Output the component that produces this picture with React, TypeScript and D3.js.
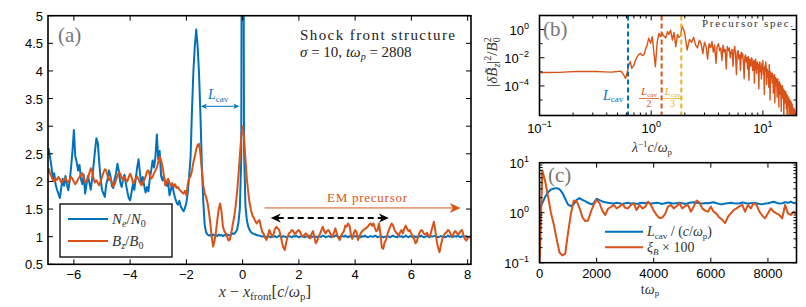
import React from "react";
import * as d3 from "d3";

const BLUE = "#0072BD";
const ORANGE = "#D95319";
const YELLOW = "#EDB120";
const SERIF = "'Liberation Serif', 'DejaVu Serif', serif";
const SANS = "'Liberation Sans', Arial, sans-serif";

// (a) shock profiles sampled at x = -6.9 + 0.05 * i
const profileX0 = -6.9;
const profileDx = 0.05;
const neProfile = [
  2.60, 2.45, 2.28, 2.05, 2.15, 1.95, 1.85, 1.78, 1.70, 1.88, 2.05, 1.92, 2.10, 1.95, 1.84, 2.00, 2.25, 2.55, 2.93, 2.45,
  2.35, 2.20, 2.30, 2.05, 1.95, 2.12, 1.78, 1.95, 2.10, 1.98, 1.85, 2.05, 2.30, 2.55, 2.78, 2.70, 2.35, 2.05, 1.85, 1.78,
  1.72, 1.95, 2.05, 2.20, 2.10, 1.92, 1.88, 2.05, 2.15, 2.32, 2.18, 1.98, 1.90, 2.05, 2.12, 1.95, 1.82, 1.70, 1.66, 1.80,
  1.95, 1.85, 2.05, 2.25, 2.40, 2.15, 1.95, 2.08, 1.92, 1.80, 1.90, 1.82, 2.05, 2.20, 2.38, 2.25, 2.45, 2.85, 2.40, 2.55,
  2.10, 2.02, 2.10, 1.95, 1.92, 1.98, 1.75, 1.85, 1.95, 1.80, 1.70, 1.62, 1.58, 1.65, 1.55, 1.50, 1.46, 1.52, 1.62, 1.80,
  2.10, 2.45, 3.30, 4.00, 4.45, 4.75, 4.45, 3.95, 3.20, 2.30, 1.65, 1.22, 1.08, 1.04, 1.02, 1.03, 1.01, 1.04, 1.02, 1.03,
  1.01, 1.04, 1.02, 1.03, 1.01, 1.03, 1.02, 1.04, 1.03, 1.02, 1.04, 1.06, 1.05, 1.08, 1.12, 1.25, 1.50, 2.40, 14.0, 2.60,
  1.55, 1.30, 1.18, 1.12, 1.08, 1.06, 1.05, 1.04, 1.03, 1.02, 1.02, 1.01, 1.00, 1.01, 0.99, 1.00, 1.01, 1.00, 0.99, 1.00,
  1.00, 1.01, 0.99, 1.00, 1.02, 1.00, 0.99, 1.01, 1.00, 0.99, 1.00, 1.01, 1.00, 0.99, 1.01, 1.00, 1.02, 1.00, 0.99, 1.00,
  1.01, 1.00, 0.99, 1.00, 1.01, 1.02, 1.00, 0.99, 1.00, 1.01, 1.00, 0.99, 1.01, 1.00, 1.00, 1.02, 1.01, 0.99, 1.00, 1.01,
  1.00, 0.99, 1.01, 1.00, 1.02, 1.01, 1.00, 0.99, 1.00, 1.01, 1.00, 1.02, 1.00, 0.99, 1.01, 1.00, 0.99, 1.00, 1.01, 1.00,
  1.01, 1.00, 0.99, 1.01, 1.00, 1.02, 1.00, 0.99, 1.00, 1.01, 1.00, 1.00, 1.02, 1.01, 0.99, 1.00, 1.01, 1.00, 0.99, 1.00,
  1.00, 1.01, 1.00, 0.99, 1.01, 1.02, 1.00, 1.00, 0.99, 1.01, 1.00, 1.01, 0.99, 1.00, 1.02, 1.00, 0.99, 1.01, 1.00, 1.00,
  1.01, 0.99, 1.00, 1.01, 1.00, 1.02, 1.00, 0.99, 1.00, 1.01, 1.00, 0.99, 1.01, 1.00, 1.01, 1.02, 1.00, 0.99, 1.00, 1.01,
  1.00, 1.01, 0.99, 1.00, 1.02, 1.00, 1.01, 0.99, 1.00, 1.01, 1.00, 1.02, 1.00, 0.99, 1.01, 1.00, 1.00, 1.01, 0.99, 1.00,
  1.00,
];
const bzProfile = [
  2.24, 2.15, 2.09, 2.03, 2.00, 2.05, 2.03, 2.08, 2.04, 1.98, 2.00, 2.04, 2.06, 2.01, 1.98, 2.03, 2.08, 2.05, 1.99, 1.95,
  1.99, 2.04, 2.08, 2.12, 2.15, 2.08, 1.98, 2.00, 2.06, 2.15, 2.24, 2.18, 2.05, 1.98, 2.02, 1.97, 1.93, 2.00, 2.08, 2.16,
  2.22, 2.20, 2.10, 2.02, 2.06, 1.98, 1.91, 1.95, 2.03, 2.10, 2.16, 2.14, 2.06, 2.02, 2.08, 2.04, 2.00, 2.08, 2.14, 2.08,
  1.97, 2.00, 2.05, 2.09, 2.04, 1.98, 1.93, 1.98, 2.02, 2.09, 2.18, 2.20, 2.11, 2.05, 2.08, 2.15, 2.20, 2.25, 2.35, 2.45,
  2.38, 2.27, 2.10, 1.93, 2.00, 2.05, 1.98, 1.92, 1.97, 1.90, 1.95, 1.88, 1.90, 1.85, 1.83, 1.80, 1.78, 1.83, 1.75, 1.95,
  2.06, 2.10, 2.20, 2.35, 2.45, 2.58, 2.66, 2.68, 2.50, 2.20, 1.93, 1.79, 1.72, 1.62, 1.45, 1.25, 1.00, 0.82, 0.92, 1.08,
  1.30, 1.50, 1.60, 1.45, 1.18, 1.10, 1.06, 1.00, 0.93, 0.95, 1.08, 1.22, 1.36, 1.55, 1.79, 2.10, 2.45, 2.80, 3.00, 2.80,
  2.40, 2.05, 1.80, 1.60, 1.48, 1.38, 1.34, 1.28, 1.24, 1.28, 1.30, 1.18, 1.08, 1.05, 0.98, 0.94, 1.02, 1.12, 1.06, 1.00,
  1.05, 1.14, 1.18, 1.15, 1.12, 1.02, 0.90, 0.80, 0.76, 0.90, 1.00, 1.06, 1.08, 1.12, 1.10, 1.05, 1.07, 1.10, 1.12, 1.08,
  1.02, 1.00, 1.04, 1.06, 1.02, 0.98, 0.97, 1.05, 1.10, 1.00, 0.88, 0.92, 1.00, 1.05, 1.12, 1.18, 1.10, 1.06, 1.10, 1.12,
  1.08, 1.02, 1.00, 1.08, 1.15, 1.05, 0.98, 0.94, 1.02, 1.06, 1.10, 1.20, 1.18, 1.24, 1.20, 1.05, 0.96, 1.06, 1.12, 1.08,
  0.94, 1.00, 1.06, 1.10, 1.12, 1.14, 1.16, 1.18, 1.22, 1.24, 1.20, 1.24, 1.16, 1.10, 1.12, 1.24, 1.05, 0.80, 0.78, 0.90,
  0.94, 1.05, 1.12, 1.18, 1.24, 1.20, 1.12, 1.08, 1.05, 1.02, 1.08, 1.12, 1.06, 1.15, 1.20, 1.14, 1.10, 1.12, 1.05, 1.00,
  0.95, 0.88, 0.92, 1.02, 1.08, 1.12, 1.10, 1.05, 1.04, 1.07, 1.02, 1.00, 1.08, 1.18, 1.27, 1.12, 0.92, 0.80, 0.72, 0.85,
  0.96, 1.02, 1.06, 1.08, 1.12, 1.10, 1.04, 1.00, 1.06, 1.10, 1.08, 1.04, 1.06, 1.10, 1.12, 1.04, 0.96, 0.93, 0.97, 1.00,
  0.98,
];
const aXTicks = [-6, -4, -2, 0, 2, 4, 6, 8];
const aYTicks = [0.5, 1, 1.5, 2, 2.5, 3, 3.5, 4, 4.5, 5];

// (b) precursor spectrum, log10 of |dBz|^2/B0^2
const specKLow = [
  0.10, 0.12, 0.15, 0.18, 0.22, 0.27, 0.32, 0.38, 0.44, 0.50, 0.53, 0.55, 0.57, 0.59, 0.61, 0.63, 0.65, 0.67, 0.70, 0.72,
  0.75, 0.78, 0.80, 0.83, 0.86, 0.89, 0.92, 0.95, 0.99, 1.02, 1.06, 1.09, 1.13, 1.17, 1.21, 1.25, 1.30, 1.35, 1.40, 1.44,
  1.49, 1.55, 1.60, 1.66, 1.72, 1.77, 1.83, 1.89, 1.96,
];
const specLogLow = [
  -3.05, -3.05, -3.04, -3.00, -2.98, -2.97, -2.98, -3.00, -3.02, -2.98, -2.95, -3.05, -3.25, -3.46, -3.05, -2.51, -2.27, -2.75, -2.55, -2.20,
  -1.92, -1.75, -1.68, -1.85, -1.80, -1.40, -1.09, -0.62, -0.97, -0.50, -1.68, -2.63, -0.95, -0.27, -0.50, -0.27, -0.45, -0.60, -0.14, -0.35,
  -0.04, -0.74, -0.20, -1.21, -0.35, -0.55, -0.45, 0.26, -0.05,
];
const specK0 = 2.0;
const specDk = 0.1;
const specLogHigh = [
  -0.30, -1.45, -0.70, -0.90, -0.55, -1.10, -1.30, -0.75, -1.00, -1.70,
  -0.90, -1.20, -2.10, -1.00, -1.30, -0.85, -1.60, -1.10, -2.40, -1.20,
  -1.00, -1.50, -1.30, -2.20, -1.10, -1.60, -1.40, -2.80, -1.20, -1.50,
  -1.30, -2.00, -1.60, -1.40, -2.60, -1.50, -1.20, -1.90, -3.20, -1.60,
  -1.50, -2.10, -1.80, -2.90, -1.60, -2.00, -1.70, -2.40, -3.50, -1.90,
  -1.80, -2.30, -2.00, -2.80, -1.90, -3.60, -2.10, -2.20, -2.60, -2.00,
  -2.10, -2.90, -2.30, -2.20, -3.80, -2.40, -2.10, -2.70, -3.10, -2.30,
  -2.40, -2.60, -4.20, -2.50, -2.30, -3.00, -2.60, -3.50, -2.40, -2.80,
  -2.20, -3.20, -2.70, -4.60, -2.60, -2.90, -2.30, -2.70, -3.90, -2.80,
  -2.90, -3.40, -3.00, -4.10, -2.50, -3.20, -5.00, -3.00, -3.30, -3.10,
  -3.20, -3.80, -3.10, -3.40, -4.50, -3.30, -3.60, -3.20, -5.20, -3.50,
  -3.40, -4.00, -3.60, -3.50, -4.80, -3.70, -3.50, -4.30, -3.80, -5.50,
  -3.70, -4.00, -3.80, -4.60, -3.90, -4.20, -5.80, -4.00, -4.30, -4.10,
  -4.00, -4.90, -4.20, -4.40, -6.30, -4.30, -4.60, -4.40, -5.20, -4.50,
  -4.40, -4.70, -5.60, -4.60, -4.80, -6.50, -4.70, -5.00, -4.90, -5.40,
  -4.80, -5.10, -6.60, -5.00, -5.20, -5.00, -5.90, -5.30, -5.10, -6.80,
  -5.20, -5.40, -5.60, -5.30, -6.70, -5.50, -5.70, -5.60, -6.00, -5.80,
  -5.60, -6.90, -5.80, -5.70, -6.10, -5.90, -7.00, -6.00, -6.20, -6.10,
  -6.40,
];
const cavMarks = [0.62, 1.24, 1.86]; // L_cav, L_cav/2, L_cav/3 (inverse)
const bXTicks = [0.1, 1, 10];
const bYTicks = [-4, -2, 0];

// (c) time evolution, t = 100 * i
const tDt = 100;
const lcavSeries = [
  1.15, 1.55, 2.10, 2.55, 2.90, 3.05, 3.10, 2.95, 2.50, 1.90, 1.45, 1.35, 1.48, 1.80, 1.95, 1.80, 1.70, 1.58, 1.48, 1.55,
  1.90, 1.78, 1.68, 1.62, 1.58, 1.55, 1.52, 1.58, 1.55, 1.50, 1.54, 1.58, 1.52, 1.55, 1.50, 1.54, 1.58, 1.55, 1.60, 1.52,
  1.55, 1.58, 1.54, 1.50, 1.55, 1.60, 1.56, 1.52, 1.55, 1.58, 1.54, 1.50, 1.55, 1.60, 1.62, 1.58, 1.55, 1.52, 1.56, 1.54,
  1.58, 1.62, 1.55, 1.50, 1.48, 1.52, 1.55, 1.58, 1.54, 1.52, 1.55, 1.60, 1.56, 1.52, 1.55, 1.58, 1.54, 1.50, 1.48, 1.52,
  1.55, 1.60, 1.66, 1.58, 1.52, 1.55, 1.62, 1.58, 1.66, 1.55, 1.60,
];
const xiBSeries = [
  0.08, 7.00, 4.20, 2.10, 1.00, 0.58, 0.30, 0.16, 0.14, 0.15, 0.40, 0.95, 1.75, 1.70, 1.25, 0.82, 0.68, 0.70, 1.05, 1.45,
  1.80, 1.55, 1.10, 0.90, 1.20, 1.30, 1.43, 1.22, 1.32, 1.50, 1.25, 1.22, 1.43, 1.54, 1.13, 1.43, 1.22, 1.30, 1.66, 1.43,
  1.10, 0.90, 0.78, 0.80, 0.95, 1.32, 1.43, 1.22, 1.35, 1.54, 1.22, 1.35, 1.43, 1.05, 1.32, 1.75, 1.60, 1.22, 1.10, 1.05,
  1.32, 1.05, 0.95, 0.80, 0.72, 0.62, 0.83, 0.97, 1.13, 1.22, 1.35, 1.43, 1.05, 1.43, 1.22, 1.54, 1.43, 1.05, 0.88, 0.77,
  0.97, 1.22, 1.05, 0.97, 0.90, 0.77, 1.43, 0.97, 0.90, 1.05, 0.97,
];
const cXTicks = [0, 2000, 4000, 6000, 8000];
const cYTicks = [-1, 0, 1];

const MINUS = "\u2212";
const fmt = (v: number) => (v < 0 ? MINUS + Math.abs(v) : String(v));

function Frame({ x0, x1, y0, y1, xt, yt, xm = [], ym = [] }) {
  const L = 5;
  const l = 3;
  let d = "";
  xt.forEach((p) => (d += `M${p},${y1}v${-L}M${p},${y0}v${L}`));
  yt.forEach((p) => (d += `M${x0},${p}h${L}M${x1},${p}h${-L}`));
  xm.forEach((p) => (d += `M${p},${y1}v${-l}M${p},${y0}v${l}`));
  ym.forEach((p) => (d += `M${x0},${p}h${l}M${x1},${p}h${-l}`));
  return (
    <g>
      <path d={d} stroke="#000" strokeWidth={1} fill="none" />
      <rect x={x0} y={y0} width={x1 - x0} height={y1 - y0} fill="none" stroke="#000" strokeWidth={1.6} />
    </g>
  );
}

function Pow10({ x, y, e, anchor = "middle" }) {
  return (
    <text x={x} y={y} textAnchor={anchor} fontFamily={SANS} fontSize={13}>
      10<tspan fontSize={9} dy={-6}>{fmt(e)}</tspan>
    </text>
  );
}

function Arrowhead({ x, y, dir, size, color }) {
  // notched arrowhead pointing in +dir along x
  const s = size;
  const d = `M${x},${y}L${x - dir * s},${y - s * 0.45}L${x - dir * s * 0.7},${y}L${x - dir * s},${y + s * 0.45}Z`;
  return <path d={d} fill={color} stroke="none" />;
}

export default function App() {
  // panel (a)
  const ax = d3.scaleLinear().domain([-6.92, 8.12]).range([48, 471]);
  const ay = d3.scaleLinear().domain([0.5, 5]).range([264.3, 15.7]);
  const profLine = d3
    .line<number>()
    .x((_, i) => ax(profileX0 + i * profileDx))
    .y((v) => ay(v));

  // panel (b)
  const bx = d3.scaleLog().domain([0.1, 20]).range([539.5, 796.5]);
  const by = d3.scaleLog().domain([Math.pow(10, -6.1), 10]).range([115.5, 15.5]);
  const specPts: [number, number][] = [
    ...specKLow.map((k, i) => [k, Math.pow(10, specLogLow[i])] as [number, number]),
    ...specLogHigh.map((v, i) => [specK0 + i * specDk, Math.pow(10, v)] as [number, number]),
  ];
  const specLine = d3
    .line<[number, number]>()
    .x((d) => bx(d[0]))
    .y((d) => by(d[1]));
  const bMinorX = bx.ticks().filter((t) => !bXTicks.some((m) => Math.abs(m - t) < 1e-9));
  const bMinorY = [-5, -3, -1, 1].map((e) => by(Math.pow(10, e)));

  // panel (c)
  const cx = d3.scaleLinear().domain([0, 9000]).range([539.5, 796.5]);
  const cy = d3.scaleLog().domain([0.1, 10]).range([262.7, 162.7]);
  const tLine = d3
    .line<number>()
    .x((_, i) => cx(i * tDt))
    .y((v) => cy(v));
  const cMinorY = cy.ticks().filter((t) => ![0.1, 1, 10].includes(t)).map((t) => cy(t));

  const [ax0, ax1] = ax.range();
  const [ayB, ayT] = ay.range();

  return (
    <svg
      width={806}
      height={307}
      viewBox="0 0 806 307"
      style={{ position: "absolute", left: 0, top: 0, background: "#fff" }}
    >
      <defs>
        <clipPath id="clipA">
          <rect x={ax0} y={ayT} width={ax1 - ax0} height={ayB - ayT} />
        </clipPath>
        <clipPath id="clipB">
          <rect x={539.5} y={15.5} width={257} height={100} />
        </clipPath>
        <clipPath id="clipC">
          <rect x={539.5} y={162.7} width={257} height={100} />
        </clipPath>
      </defs>

      {/* ---------- panel (a) ---------- */}
      <g clipPath="url(#clipA)">
        <path d={profLine(neProfile)} fill="none" stroke={BLUE} strokeWidth={2} strokeLinejoin="round" />
        <path d={profLine(bzProfile)} fill="none" stroke={ORANGE} strokeWidth={2} strokeLinejoin="round" />
      </g>
      <Frame
        x0={ax0}
        x1={ax1}
        y0={ayT}
        y1={ayB}
        xt={aXTicks.map((t) => ax(t))}
        yt={aYTicks.map((t) => ay(t))}
      />
      {aXTicks.map((t) => (
        <text key={t} x={ax(t)} y={279} textAnchor="middle" fontFamily={SANS} fontSize={13}>
          {fmt(t)}
        </text>
      ))}
      {aYTicks.map((t) => (
        <text key={t} x={43} y={ay(t) + 5} textAnchor="end" fontFamily={SANS} fontSize={13}>
          {t}
        </text>
      ))}
      <text x={265} y={297} textAnchor="middle" fontFamily={SERIF} fontSize={16} fill="#333">
        <tspan fontStyle="italic">x</tspan> {MINUS} <tspan fontStyle="italic">x</tspan>
        <tspan fontSize={11} dy={3}>front</tspan>
        <tspan dy={-3} fontSize={17}>[</tspan>
        <tspan fontStyle="italic">c</tspan>/<tspan fontStyle="italic">ω</tspan>
        <tspan fontSize={11} dy={3}>p</tspan>
        <tspan dy={-3} fontSize={17}>]</tspan>
      </text>
      <text x={58} y={42} fontFamily={SERIF} fontSize={21} fill="#777">
        (a)
      </text>
      <text x={300} y={40} fontFamily={SERIF} fontSize={15} textLength={155} fill="#222">
        Shock front structure
      </text>
      <text x={300} y={57} fontFamily={SERIF} fontSize={15} fill="#222">
        <tspan fontStyle="italic">σ</tspan> = 10, <tspan fontStyle="italic">tω</tspan>
        <tspan fontSize={10} dy={3} fontStyle="italic">p</tspan>
        <tspan dy={-3}> = 2808</tspan>
      </text>

      {/* L_cav annotation */}
      <line x1={ax(-1.48) + 4} x2={ax(-0.12) - 4} y1={ay(3.36)} y2={ay(3.36)} stroke={BLUE} strokeWidth={1} />
      <Arrowhead x={ax(-0.12)} y={ay(3.36)} dir={1} size={6} color={BLUE} />
      <Arrowhead x={ax(-1.48)} y={ay(3.36)} dir={-1} size={6} color={BLUE} />
      <text x={208} y={99} fontFamily={SERIF} fontSize={14} fill={BLUE}>
        <tspan fontStyle="italic">L</tspan>
        <tspan fontSize={9} dy={3}>cav</tspan>
      </text>

      {/* EM precursor annotation */}
      <text x={367} y={202} textAnchor="middle" fontFamily={SERIF} fontSize={13} textLength={80} fill={ORANGE}>
        EM precursor
      </text>
      <line x1={ax(0.78)} x2={ax(7.75) - 6} y1={ay(1.52)} y2={ay(1.52)} stroke={ORANGE} strokeWidth={1} />
      <Arrowhead x={ax(7.75)} y={ay(1.52)} dir={1} size={11} color={ORANGE} />
      <line
        x1={ax(1.0) + 7}
        x2={ax(5.2) - 7}
        y1={ay(1.34)}
        y2={ay(1.34)}
        stroke="#000"
        strokeWidth={2}
        strokeDasharray="6,4"
      />
      <Arrowhead x={ax(5.2)} y={ay(1.34)} dir={1} size={10} color="#000" />
      <Arrowhead x={ax(1.0)} y={ay(1.34)} dir={-1} size={10} color="#000" />

      {/* legend (a) */}
      <rect x={60} y={204} width={112} height={53} fill="#fff" stroke="#222" strokeWidth={1.5} />
      <line x1={68} x2={108} y1={219} y2={219} stroke={BLUE} strokeWidth={2} />
      <line x1={68} x2={108} y1={241} y2={241} stroke={ORANGE} strokeWidth={2} />
      <text x={112} y={224} fontFamily={SERIF} fontSize={15} fill="#333">
        <tspan fontStyle="italic">N</tspan>
        <tspan fontSize={10} dy={3} fontStyle="italic">e</tspan>
        <tspan dy={-3}>/</tspan>
        <tspan fontStyle="italic">N</tspan>
        <tspan fontSize={10} dy={3}>0</tspan>
      </text>
      <text x={112} y={246} fontFamily={SERIF} fontSize={15} fill="#333">
        <tspan fontStyle="italic">B</tspan>
        <tspan fontSize={10} dy={3} fontStyle="italic">z</tspan>
        <tspan dy={-3}>/</tspan>
        <tspan fontStyle="italic">B</tspan>
        <tspan fontSize={10} dy={3}>0</tspan>
      </text>

      {/* ---------- panel (b) ---------- */}
      <g clipPath="url(#clipB)">
        <path d={specLine(specPts)} fill="none" stroke={ORANGE} strokeWidth={1.4} strokeLinejoin="round" />
      </g>
      {cavMarks.map((k, i) => (
        <line
          key={k}
          x1={bx(k)}
          x2={bx(k)}
          y1={15.5}
          y2={115.5}
          stroke={[BLUE, ORANGE, YELLOW][i]}
          strokeWidth={2}
          strokeDasharray="5,3"
        />
      ))}
      <Frame
        x0={539.5}
        x1={796.5}
        y0={15.5}
        y1={115.5}
        xt={bXTicks.map((t) => bx(t))}
        yt={bYTicks.map((e) => by(Math.pow(10, e)))}
        xm={bMinorX.map((t) => bx(t))}
        ym={bMinorY}
      />
      {bXTicks.map((t) => (
        <Pow10 key={t} x={bx(t)} y={133} e={Math.round(Math.log10(t))} />
      ))}
      {bYTicks.map((e) => (
        <Pow10 key={e} x={529} y={by(Math.pow(10, e)) + 5} e={e} anchor="end" />
      ))}
      <text x={543} y={36} fontFamily={SERIF} fontSize={21} fill="#777">
        (b)
      </text>
      <text x={702} y={27} fontFamily={SERIF} fontSize={11} textLength={91} fill="#333">
        Precursor spec.
      </text>
      <text x={603} y={100} fontFamily={SERIF} fontSize={14} fill={BLUE}>
        <tspan fontStyle="italic">L</tspan>
        <tspan fontSize={9} dy={2}>cav</tspan>
      </text>
      {[
        { x: 649, c: ORANGE, n: "2" },
        { x: 672.5, c: YELLOW, n: "3" },
      ].map((f) => (
        <g key={f.n} fill={f.c} fontFamily={SERIF}>
          <text x={f.x} y={95} textAnchor="middle" fontSize={11}>
            <tspan fontStyle="italic">L</tspan>
            <tspan fontSize={7} dy={2}>cav</tspan>
          </text>
          <line x1={f.x - 10} x2={f.x + 10} y1={98.5} y2={98.5} stroke={f.c} strokeWidth={0.8} />
          <text x={f.x} y={107} textAnchor="middle" fontSize={10}>
            {f.n}
          </text>
        </g>
      ))}
      <text
        transform="translate(497,62) rotate(-90)"
        textAnchor="middle"
        fontFamily={SERIF}
        fontSize={15}
        fill="#333"
      >
        |<tspan fontStyle="italic">δ</tspan>
        <tspan fontStyle="italic">B̃</tspan>
        <tspan fontSize={10} dy={3} fontStyle="italic">z</tspan>
        <tspan dy={-3}>|</tspan>
        <tspan fontSize={10} dy={-6}>2</tspan>
        <tspan dy={6}>/</tspan>
        <tspan fontStyle="italic">B</tspan>
        <tspan fontSize={10} dy={3}>0</tspan>
        <tspan fontSize={10} dy={-9} dx={-5}>2</tspan>
      </text>
      <text x={652} y={152} textAnchor="middle" fontFamily={SERIF} fontSize={14} fill="#333">
        <tspan fontStyle="italic">λ</tspan>
        <tspan fontSize={9} dy={-5}>{MINUS}1</tspan>
        <tspan dy={5} fontStyle="italic">c</tspan>/<tspan fontStyle="italic">ω</tspan>
        <tspan fontSize={9} dy={3}>p</tspan>
      </text>

      {/* ---------- panel (c) ---------- */}
      <g clipPath="url(#clipC)">
        <path d={tLine(lcavSeries)} fill="none" stroke={BLUE} strokeWidth={2} strokeLinejoin="round" />
        <path d={tLine(xiBSeries)} fill="none" stroke={ORANGE} strokeWidth={2} strokeLinejoin="round" />
      </g>
      <Frame
        x0={539.5}
        x1={796.5}
        y0={162.7}
        y1={262.7}
        xt={cXTicks.map((t) => cx(t))}
        yt={cYTicks.map((e) => cy(Math.pow(10, e)))}
        ym={cMinorY}
      />
      {cXTicks.map((t) => (
        <text key={t} x={cx(t)} y={278} textAnchor="middle" fontFamily={SANS} fontSize={13}>
          {t}
        </text>
      ))}
      {cYTicks.map((e) => (
        <Pow10 key={e} x={529} y={cy(Math.pow(10, e)) + 5} e={e} anchor="end" />
      ))}
      <text x={548} y={182} fontFamily={SERIF} fontSize={21} fill="#777">
        (c)
      </text>
      <line x1={605} x2={643} y1={231.7} y2={231.7} stroke={BLUE} strokeWidth={2} />
      <line x1={605} x2={643} y1={247.3} y2={247.3} stroke={ORANGE} strokeWidth={2} />
      <text x={647} y={236} fontFamily={SERIF} fontSize={14} fill="#333">
        <tspan fontStyle="italic">L</tspan>
        <tspan fontSize={9} dy={3}>cav</tspan>
        <tspan dy={-3}> / (</tspan>
        <tspan fontStyle="italic">c</tspan>/<tspan fontStyle="italic">ω</tspan>
        <tspan fontSize={9} dy={3}>p</tspan>
        <tspan dy={-3}>)</tspan>
      </text>
      <text x={647} y={252} fontFamily={SERIF} fontSize={14} fill="#333">
        <tspan fontStyle="italic">ξ</tspan>
        <tspan fontSize={9} dy={3} fontStyle="italic">B</tspan>
        <tspan dy={-3}> × 100</tspan>
      </text>
      <text x={650} y={294} textAnchor="middle" fontFamily={SERIF} fontSize={14} fill="#333">
        t<tspan fontStyle="italic">ω</tspan>
        <tspan fontSize={9} dy={2}>p</tspan>
      </text>
    </svg>
  );
}
